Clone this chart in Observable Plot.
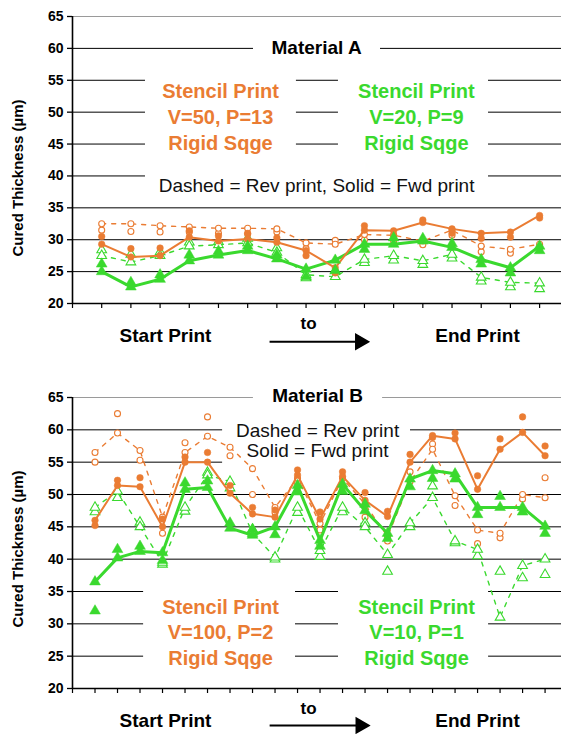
<!DOCTYPE html>
<html><head><meta charset="utf-8">
<script src="https://cdn.jsdelivr.net/npm/d3@7"></script>
<script src="https://cdn.jsdelivr.net/npm/@observablehq/plot@0.6"></script>
<style>
body{margin:0;background:#fff;}
#chart{width:567px;}
#chart svg{display:block;}
</style></head><body><div id="chart"></div>
<script>
// ---------- data ----------
const yTicks = [20, 25, 30, 35, 40, 45, 50, 55, 60, 65];
const catsA = [1,2,3,4,5,6,7,8,9,10,11,12,13,14,15,16];
const catsB = [1,2,3,4,5,6,7,8,9,10,11,12,13,14,15,16,17,18,19,20,21];

// Material A (line values and a second replicate reading)
const orangeFwdA    = [29.3, 27.3, 27.5, 30.4, 29.8, 30.1, 29.6, 28.3, 25.6, 31.5, 31.4, 32.7, 31.7, 31.0, 31.2, 33.8];
const orangeFwdARep = [30.5, 28.6, 28.7, 31.4, 30.6, 31.0, 30.3, 27.5, 24.8, 32.2, 30.7, 33.1, 31.0, 30.2, 30.4, 33.4];
const orangeRevA    = [32.5, 32.5, 32.2, 32.0, 31.8, 31.8, 31.7, 29.5, 29.3, 30.8, 30.7, 29.8, 31.5, 29.0, 28.5, 29.3];
const orangeRevARep = [31.5, 31.3, 31.2, 31.2, 31.0, 30.9, 31.2, 28.6, 29.9, 30.0, 29.8, 29.2, 30.7, 28.1, 27.9, 28.7];
const greenFwdA     = [25.0, 22.6, 23.8, 26.7, 27.6, 28.3, 27.0, 25.4, 26.8, 29.3, 29.3, 29.8, 28.8, 26.9, 25.6, 29.0];
const greenFwdARep  = [26.2, 23.3, 24.5, 27.6, 28.2, 29.0, 27.6, 24.2, 25.2, 28.5, 30.3, 30.2, 29.4, 26.2, 24.8, 28.3];
const greenRevA     = [27.5, 26.5, 27.5, 29.0, 29.2, 29.5, 28.0, 24.5, 24.2, 26.9, 27.5, 26.7, 27.7, 24.1, 23.3, 23.2];
const greenRevARep  = [28.4, 27.7, 28.1, 29.6, 29.7, 30.2, 28.7, 24.0, 25.1, 26.4, 26.8, 26.1, 27.1, 23.5, 22.6, 22.3];

// Material B
const orangeFwdB    = [46.0, 51.4, 51.2, 45.0, 55.0, 55.0, 50.2, 47.0, 46.5, 53.0, 46.2, 52.8, 49.1, 46.6, 55.0, 59.1, 58.6, 50.8, 57.0, 59.6, 56.0];
const orangeFwdBRep = [45.2, 52.2, 52.6, 46.2, 55.8, 56.5, 51.4, 48.0, 47.6, 53.8, 47.3, 53.5, 50.3, 47.4, 56.2, 58.8, 59.5, 52.9, 58.6, 62.0, 57.5];
const orangeRevB    = [56.5, 59.5, 56.8, 46.5, 56.5, 59.0, 57.3, 54.0, 48.0, 52.5, 45.5, 52.5, 48.5, 43.5, 52.0, 57.0, 49.8, 44.5, 44.0, 50.0, 49.5];
const orangeRevBRep = [55.0, 62.5, 55.3, 44.0, 58.0, 62.0, 56.0, 50.0, 47.2, 51.8, 44.5, 51.3, 46.5, 42.8, 53.5, 57.8, 48.3, 42.4, 43.3, 49.3, 52.6];
const greenFwdB     = [36.5, 40.2, 41.2, 41.0, 50.8, 51.1, 44.8, 43.7, 45.0, 51.4, 42.9, 51.6, 47.5, 44.0, 52.4, 53.7, 53.2, 48.0, 48.0, 48.0, 45.1];
const greenFwdBRep  = [32.0, 41.5, 42.0, 39.8, 51.8, 52.1, 45.6, 44.6, 43.8, 50.4, 42.0, 50.5, 48.5, 43.2, 51.2, 52.5, 52.4, 46.9, 49.7, 47.3, 44.0];
const greenRevB     = [48.0, 50.5, 45.0, 39.5, 48.0, 53.0, 52.0, 44.0, 40.3, 48.0, 41.3, 48.0, 45.0, 40.7, 45.6, 49.5, 42.8, 41.5, 31.0, 39.0, 40.0];
const greenRevBRep  = [47.3, 49.5, 45.7, 39.2, 47.4, 53.4, 51.0, 44.6, 40.0, 47.2, 40.4, 47.3, 45.6, 38.1, 45.0, 51.3, 42.5, 40.5, 38.1, 37.1, 37.6];

// text
const yLabel = "Cured Thickness (µm)";
const orangeTextA = ["Stencil Print", "V=50, P=13", "Rigid Sqge"];
const greenTextA  = ["Stencil Print", "V=20, P=9", "Rigid Sqge"];
const orangeTextB = ["Stencil Print", "V=100, P=2", "Rigid Sqge"];
const greenTextB  = ["Stencil Print", "V=10, P=1", "Rigid Sqge"];

// ---------- drawing ----------
const ORANGE = "#EA7C33", GREEN = "#3AD92E";
const FONT = "'Liberation Sans', Arial, sans-serif";

function toRows(cats, vals) { return cats.map((c, i) => ({x: c, v: vals[i]})); }

function panel(o) {
  const s = o.series;
  const rev = [[s.oRev, s.oRevRep, ORANGE, "circle"], [s.gRev, s.gRevRep, GREEN, "triangle"]];
  const fwd = [[s.oFwd, s.oFwdRep, ORANGE, "circle"], [s.gFwd, s.gFwdRep, GREEN, "triangle"]];
  const marks = [
    Plot.ruleY(yTicks.filter(t => t > 20 && t < 65), {stroke: "black", strokeWidth: 1}),
    Plot.ruleY([65], {stroke: "#9a9a9a", strokeWidth: 1.2}),
    Plot.rect(o.boxes, {x1: "x1", x2: "x2", y1: "y1", y2: "y2", fill: "white"}),
    Plot.axisY({ticks: yTicks, tickSize: 5, tickPadding: 4, fontSize: 14, fontWeight: "bold", label: null, strokeWidth: 1.3}),
    Plot.axisX({ticks: o.cats.concat([0]), tickSize: 5, tickFormat: () => "", label: null, strokeWidth: 1.2}),
    Plot.ruleY([20], {stroke: "black", strokeWidth: 1.6}),
    Plot.ruleX([0], {y1: 20, y2: 65, stroke: "black", strokeWidth: 1.6}),
  ];
  // dashed (reverse print) lines with hollow markers
  for (const [vals, rep, col, sym] of rev) {
    marks.push(Plot.line(toRows(o.cats, vals), {x: "x", y: "v", stroke: col, strokeWidth: 1.4, strokeDasharray: "4,6"}));
  }
  for (const [vals, rep, col, sym] of rev) {
    for (const arr of [rep, vals]) {
      marks.push(Plot.dot(toRows(o.cats, arr), {x: "x", y: "v", symbol: sym, r: sym === "circle" ? 3 : 3.6, stroke: col, strokeWidth: 1.1, fill: "white"}));
    }
  }
  // solid (forward print) lines with filled markers
  marks.push(Plot.line(toRows(o.cats, s.gFwd), {x: "x", y: "v", stroke: GREEN, strokeWidth: 3}));
  marks.push(Plot.line(toRows(o.cats, s.oFwd), {x: "x", y: "v", stroke: ORANGE, strokeWidth: 2}));
  for (const [vals, rep, col, sym] of fwd) {
    for (const arr of [rep, vals]) {
      marks.push(Plot.dot(toRows(o.cats, arr), {x: "x", y: "v", symbol: sym, r: sym === "circle" ? 3.3 : 4, fill: col, stroke: col, strokeWidth: 0.5}));
    }
  }
  const lab = {frameAnchor: "bottom-left", textAnchor: "middle", lineAnchor: "middle", text: d => d, fontWeight: "bold", fill: "black"};
  // annotations
  marks.push(
    Plot.text([o.title], {x: o.mid, y: o.titleY, text: d => d, fontSize: 19, fontWeight: "bold", fill: "black"}),
    ...o.notes.map(n => Plot.text([n.t], {x: o.mid, y: n.y, text: d => d, fontSize: 19, fontWeight: "normal", fill: "#111"})),
    Plot.text(o.orangeText, {x: o.oX, y: (d, i) => o.textY[i], text: d => d, fontSize: 20, fontWeight: "bold", fill: ORANGE}),
    Plot.text(o.greenText, {x: o.gX, y: (d, i) => o.textY[i], text: d => d, fontSize: 20, fontWeight: "bold", fill: GREEN}),
    Plot.text([yLabel], {frameAnchor: "left", textAnchor: "middle", lineAnchor: "middle", dx: -54, dy: o.labShift, rotate: -90, text: d => d, fontSize: 15, fontWeight: "bold", fill: "black"}),
    Plot.text(["Start Print"], {...lab, dx: 93, dy: o.labDy, fontSize: 19}),
    Plot.text(["End Print"], {...lab, dx: 405, dy: o.labDy, fontSize: 19}),
    Plot.text(["to"], {...lab, dx: 236, dy: o.toDy, fontSize: 17}),
    Plot.link([o.arrow], {x1: "x1", x2: "x2", y1: "y", y2: "y", stroke: "black", strokeWidth: 2}),
    Plot.dot([o.arrow], {x: "x2", y: "y", symbol: "triangle", rotate: 90, r: 5.5, fill: "black", stroke: "black"})
  );
  return Plot.plot({
    width: 567, height: 367,
    marginTop: o.mt, marginBottom: o.mb, marginLeft: 72, marginRight: 6,
    x: {domain: [0, o.xmax], axis: null},
    y: {domain: [20, 65], axis: null},
    style: {fontFamily: FONT, color: "black", background: "white", overflow: "visible"},
    marks
  });
}

const chart = document.getElementById("chart");
chart.append(panel({
  cats: catsA, xmax: 16.75, mt: 16, mb: 64, labShift: 18,
  series: {oFwd: orangeFwdA, oFwdRep: orangeFwdARep, oRev: orangeRevA, oRevRep: orangeRevARep,
           gFwd: greenFwdA, gFwdRep: greenFwdARep, gRev: greenRevA, gRevRep: greenRevARep},
  boxes: [
    {x1: 6.2, x2: 10.55, y1: 58.6, y2: 61.6},
    {x1: 2.5, x2: 7.67, y1: 43.2, y2: 56.6},
    {x1: 9.11, x2: 14.25, y1: 43.2, y2: 56.6},
    {x1: 2.5, x2: 14.25, y1: 37.6, y2: 41.6}
  ],
  title: "Material A", mid: 8.36, titleY: 60.0,
  notes: [{t: "Dashed = Rev print, Solid = Fwd print", y: 38.5}],
  orangeText: orangeTextA, greenText: greenTextA, oX: 5.07, gX: 11.78, textY: [53.2, 49.1, 45.0],
  labDy: 32, toDy: 20,
  arrow: {x1: 6.75, x2: 9.85, y: 14.0}
}));
chart.append(panel({
  cats: catsB, xmax: 21.73, mt: 30, mb: 46, labShift: 6,
  series: {oFwd: orangeFwdB, oFwdRep: orangeFwdBRep, oRev: orangeRevB, oRevRep: orangeRevBRep,
           gFwd: greenFwdB, gFwdRep: greenFwdBRep, gRev: greenRevB, gRevRep: greenRevBRep},
  boxes: [
    {x1: 8.04, x2: 13.78, y1: 63.8, y2: 66.2},
    {x1: 6.67, x2: 15.02, y1: 53.7, y2: 61.7},
    {x1: 3.16, x2: 9.91, y1: 22.8, y2: 37.0},
    {x1: 11.82, x2: 18.49, y1: 22.8, y2: 37.0}
  ],
  title: "Material B", mid: 10.89, titleY: 65.3,
  notes: [{t: "Dashed = Rev print", y: 59.9}, {t: "Solid = Fwd print", y: 56.8}],
  orangeText: orangeTextB, greenText: greenTextB, oX: 6.58, gX: 15.29, textY: [32.5, 28.6, 24.7],
  labDy: 32, toDy: 20,
  arrow: {x1: 8.76, x2: 12.8, y: 14.28}
}));
</script>
</body></html>
